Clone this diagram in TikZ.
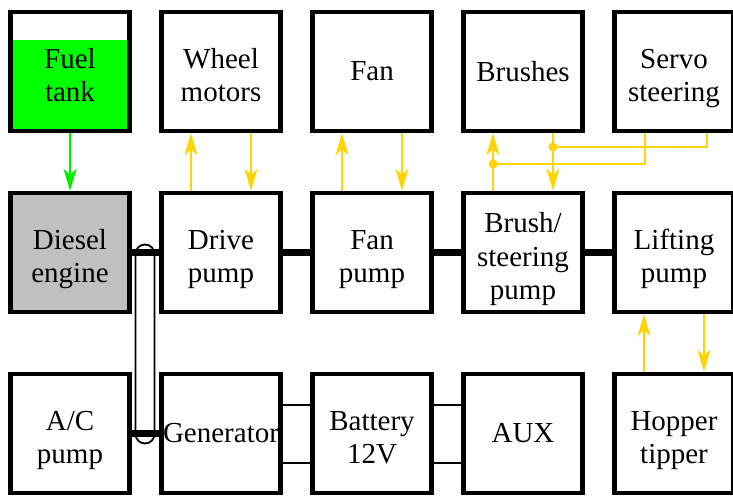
\documentclass[tikz,border=0pt]{standalone}
\usepackage{fontspec}
\setmainfont{Liberation Serif}
\usetikzlibrary{arrows.meta,calc}
\definecolor{ylw}{RGB}{255,212,0}
\definecolor{grn}{RGB}{0,238,0}
\definecolor{fuel}{RGB}{0,255,0}
\definecolor{eng}{RGB}{192,192,192}
\newcommand\mlines[1]{\raisebox{-7pt}[\height][\depth]{\begin{tabular}{@{}c@{}}#1\end{tabular}}}
\tikzset{
  box/.style={draw, line width=4.5pt, minimum width=119pt, minimum height=119pt,
    inner sep=0pt, align=center, font=\fontsize{29}{33.5}\selectfont},
  ya/.style={draw=ylw, line width=2pt, -{Stealth[length=22pt,width=13pt,inset=6pt]}},
  yl/.style={draw=ylw, line width=2pt},
  ga/.style={draw=grn, line width=2pt, -{Stealth[length=22pt,width=13pt,inset=6pt]}},
  shaft/.style={line width=7.5pt},
  belt/.style={line width=1.8pt, rounded corners=9.5pt},
  wire/.style={line width=2pt},
  dot/.style={fill=ylw}
}
\begin{document}
\begin{tikzpicture}[x=1pt,y=-1pt]
\useasboundingbox (0,0) rectangle (733,495);
% fuel level
\fill[fuel] (10.5,40) rectangle (129.5,131);
% belt
\draw[belt] (135.5,244.5) rectangle (154.5,443.5);
% nodes
\node[box] (ft) at (70,71.5) {\mlines{Fuel\\tank}};
\node[box] (wm) at (221,71.5) {\mlines{Wheel\\motors}};
\node[box] (fan) at (372,71.5) {Fan};
\node[box] (br) at (523,71.5) {Brushes};
\node[box] (sv) at (674,71.5) {\mlines{Servo\\steering}};
\node[box, fill=eng] (de) at (70,252.5) {\mlines{Diesel\\engine}};
\node[box] (dp) at (221,252.5) {\mlines{Drive\\pump}};
\node[box] (fp) at (372,252.5) {\mlines{Fan\\pump}};
\node[box] (bsp) at (523,252.5) {\mlines{Brush/\\steering\\pump}};
\node[box] (lp) at (674,252.5) {\mlines{Lifting\\pump}};
\node[box] (ac) at (70,433.5) {\mlines{A/C\\pump}};
\node[box] (gen) at (221,433.5) {};
\node[box] (bat) at (372,433.5) {\mlines{Battery\\12V}};
\node[box] (aux) at (523,433.5) {AUX};
\node[box] (hop) at (674,433.5) {\mlines{Hopper\\tipper}};
\node[font=\fontsize{29}{33.5}\selectfont, inner sep=0pt] (gentxt) at (gen.center) {Generator};
% shafts
\draw[shaft] (de.east) -- (dp.west);
\draw[shaft] (dp.east) -- (fp.west);
\draw[shaft] (fp.east) -- (bsp.west);
\draw[shaft] (bsp.east) -- (lp.west);
\draw[shaft] (ac.east) -- (gen.west);
% electric wires
\draw[wire] ([yshift=29pt]gen.east) -- ([yshift=29pt]bat.west);
\draw[wire] ([yshift=-29pt]gen.east) -- ([yshift=-29pt]bat.west);
\draw[wire] ([yshift=29pt]bat.east) -- ([yshift=29pt]aux.west);
\draw[wire] ([yshift=-29pt]bat.east) -- ([yshift=-29pt]aux.west);
% fuel
\draw[ga] (ft.south) -- (de.north);
% hydraulics
\draw[ya] ([xshift=-30pt]dp.north) -- ([xshift=-30pt]wm.south);
\draw[ya] ([xshift=30pt]wm.south) -- ([xshift=30pt]dp.north);
\draw[ya] ([xshift=-30pt]fp.north) -- ([xshift=-30pt]fan.south);
\draw[ya] ([xshift=30pt]fan.south) -- ([xshift=30pt]fp.north);
\draw[ya] ([xshift=-30pt]hop.north) -- ([xshift=-30pt]lp.south);
\draw[ya] ([xshift=30pt]lp.south) -- ([xshift=30pt]hop.north);
\draw[ya] ([xshift=-30pt]bsp.north) -- ([xshift=-30pt]br.south);
\draw[ya] ([xshift=30pt]br.south) -- ([xshift=30pt]bsp.north);
\coordinate (j1) at (493,164);
\coordinate (j2) at (553,147);
\draw[yl] (j1) -| ([xshift=-29pt]sv.south);
\draw[yl] ([xshift=33pt]sv.south) |- (j2);
\fill[dot] (j1) circle (4.5);
\fill[dot] (j2) circle (4.5);
\end{tikzpicture}
\end{document}
